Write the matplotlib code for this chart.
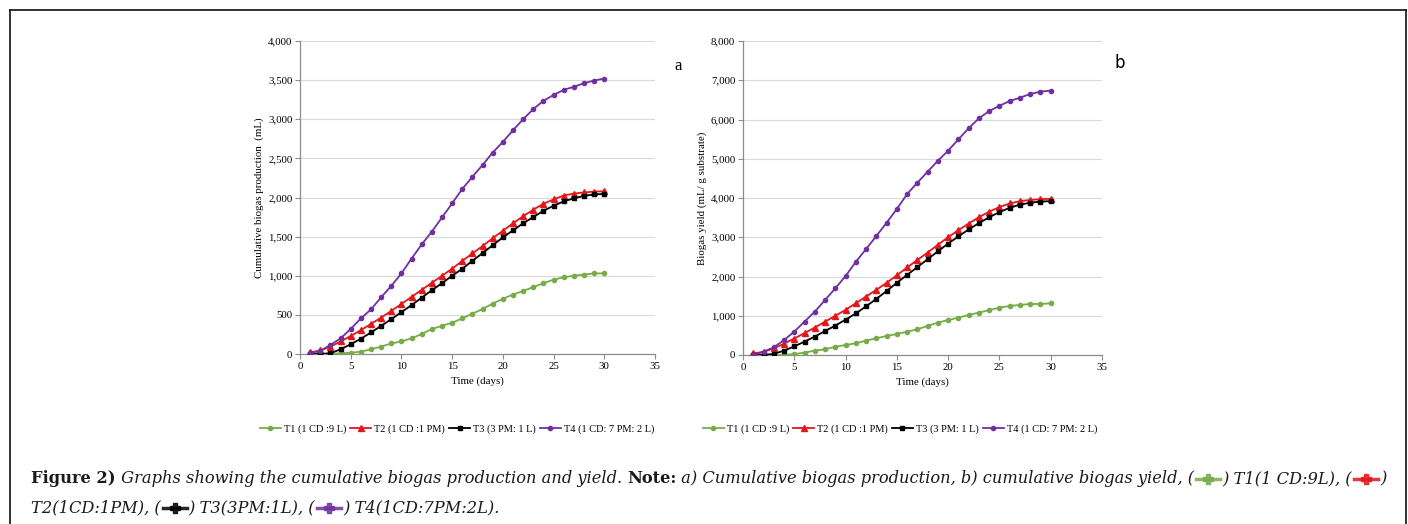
import matplotlib
matplotlib.use("Agg")
import matplotlib.pyplot as plt
from matplotlib.lines import Line2D

# === DATA ===
days = list(range(1, 31))

# a) cumulative biogas production (mL)
prod_t1 = [0, 0, 0, 10, 15, 30, 60, 95, 135, 160, 200, 255, 320, 360, 400,
           455, 515, 575, 645, 705, 760, 805, 855, 905, 950, 980, 1000, 1015, 1030, 1030]
prod_t2 = [20, 45, 95, 160, 230, 305, 385, 465, 550, 640, 730, 820, 910, 1000, 1090,
           1190, 1285, 1380, 1480, 1575, 1670, 1760, 1845, 1920, 1975, 2025, 2050, 2065, 2075, 2080]
prod_t3 = [0, 0, 10, 60, 125, 195, 275, 360, 445, 535, 625, 720, 815, 905, 1000,
           1090, 1190, 1290, 1390, 1490, 1580, 1670, 1750, 1830, 1895, 1950, 1990, 2020, 2040, 2045]
prod_t4 = [10, 40, 115, 200, 320, 455, 570, 725, 870, 1030, 1220, 1400, 1565, 1745, 1925,
           2110, 2265, 2415, 2575, 2710, 2860, 3000, 3130, 3235, 3310, 3375, 3415, 3460, 3495, 3520]

# b) biogas yield (mL/g substrate)
yield_t1 = [0, 0, 0, 0, 25, 60, 110, 145, 210, 255, 300, 365, 425, 485, 535,
            595, 655, 740, 825, 890, 950, 1020, 1080, 1145, 1205, 1250, 1275, 1300, 1300, 1315]
yield_t2 = [40, 80, 170, 290, 420, 560, 700, 850, 1000, 1150, 1320, 1490, 1660, 1840, 2030,
            2230, 2420, 2610, 2810, 3000, 3180, 3350, 3510, 3650, 3770, 3860, 3920, 3950, 3970, 3980]
yield_t3 = [0, 0, 30, 110, 220, 340, 470, 610, 750, 900, 1060, 1240, 1430, 1630, 1840,
            2040, 2240, 2440, 2640, 2840, 3020, 3200, 3360, 3510, 3640, 3750, 3830, 3880, 3910, 3920]
yield_t4 = [0, 85, 195, 380, 595, 850, 1105, 1400, 1700, 2010, 2375, 2700, 3030, 3370, 3720,
            4100, 4390, 4670, 4950, 5205, 5495, 5775, 6030, 6215, 6350, 6470, 6555, 6650, 6710, 6735]

labels_a = ["T1 (1 CD :9 L)", "T2 (1 CD :1 PM)", "T3 (3 PM: 1 L)", "T4 (1 CD: 7 PM: 2 L)"]
labels_b = ["T1 (1 CD :9 L)", "T2 (1 CD :1 PM)", "T3 (3 PM: 1 L)", "T4 (1 CD: 7 PM: 2 L)"]

# === STYLE ===
C_GREEN = "#77ac48"
C_RED = "#e3161b"
C_BLACK = "#000000"
C_PURPLE = "#7030a0"
colors = [C_GREEN, C_RED, C_BLACK, C_PURPLE]
markers = ["o", "^", "s", "o"]
msizes = [3.0, 4.0, 3.3, 3.0]

plt.rcParams["font.family"] = ["Liberation Serif", "DejaVu Serif"]

W, H = 1408, 524
fig = plt.figure(figsize=(W / 100, H / 100), dpi=100)


def fx(px):
    return px / W


def fy(py):
    return 1 - py / H


def setup_axes(ax, ymax, ystep, ylabel):
    ax.set_xlim(0, 35)
    ax.set_ylim(0, ymax)
    ax.set_xticks(range(0, 36, 5))
    ax.set_yticks(range(0, ymax + 1, ystep))
    ax.set_yticklabels([f"{v:,}" for v in range(0, ymax + 1, ystep)])
    ax.grid(axis="y", color="#d9d9d9", linewidth=0.8)
    ax.set_axisbelow(True)
    for s in ["top", "right"]:
        ax.spines[s].set_visible(False)
    for s in ["left", "bottom"]:
        ax.spines[s].set_color("#8c8c8c")
        ax.spines[s].set_linewidth(0.9)
    ax.tick_params(axis="both", labelsize=7.8, length=3.5, width=0.8,
                   color="#8c8c8c", pad=2)
    ax.set_xlabel("Time (days)", fontsize=7.8, labelpad=4)
    ax.set_ylabel(ylabel, fontsize=7.8, labelpad=3)


def draw_series(ax, series, labels):
    for vals, lab, c, m, ms in zip(series, labels, colors, markers, msizes):
        ax.plot(days, vals, color=c, marker=m, markersize=ms, linewidth=1.3,
                label=lab, zorder=3)


# --- Panel a ---
ax1 = fig.add_axes([fx(300), fy(354), fx(655) - fx(300), fy(41) - fy(354)])
draw_series(ax1, [prod_t1, prod_t2, prod_t3, prod_t4], labels_a)
setup_axes(ax1, 4000, 500, "Cumulative biogas production  (mL)")
fig.text(fx(678), fy(66), "a", fontsize=12, ha="center", va="center")
ax1.legend(loc="center", bbox_to_anchor=(fx(457), fy(429)),
           bbox_transform=fig.transFigure, ncol=4, frameon=False, fontsize=7.5,
           handlelength=2.0, handletextpad=0.3, columnspacing=0.4)

# --- Panel b ---
ax2 = fig.add_axes([fx(743), fy(355), fx(1102) - fx(743), fy(41) - fy(355)])
draw_series(ax2, [yield_t1, yield_t2, yield_t3, yield_t4], labels_b)
setup_axes(ax2, 8000, 1000, "Biogas yield (mL/ g substrate)")
fig.text(fx(1120), fy(63), "b", fontsize=12, ha="center", va="center",
         family="DejaVu Sans")
ax2.legend(loc="center", bbox_to_anchor=(fx(900), fy(429)),
           bbox_transform=fig.transFigure, ncol=4, frameon=False, fontsize=7.5,
           handlelength=2.0, handletextpad=0.3, columnspacing=0.4)

# --- Outer frame (open at the bottom) ---
frame_kw = dict(transform=fig.transFigure, color="#222222", linewidth=1.3)
fig.add_artist(Line2D([fx(10), fx(1406)], [fy(10), fy(10)], **frame_kw))
fig.add_artist(Line2D([fx(10), fx(10)], [fy(10), 0], **frame_kw))
fig.add_artist(Line2D([fx(1406), fx(1406)], [fy(10), 0], **frame_kw))

# --- Caption, placed piece by piece ---
fig.canvas.draw()
renderer = fig.canvas.get_renderer()
CAP_SIZE = 11.7
CAP_FONT = ["DejaVu Serif"]


def put(x, y, s, **kw):
    t = fig.text(fx(x), fy(y), s, fontsize=CAP_SIZE, va="baseline", ha="left",
                 color="#1a1a1a", family=CAP_FONT, **kw)
    bb = t.get_window_extent(renderer)
    return x + bb.width


def glyph(x, y, color):
    # small legend-style sample: thick line with a plus marker
    gw = 28
    fig.add_artist(Line2D([fx(x + 2), fx(x + gw / 2), fx(x + gw - 2)], [fy(y - 4.5)] * 3,
                          transform=fig.transFigure, color=color, linewidth=2.5,
                          alpha=0.85, marker="P", markevery=[1], markersize=7,
                          markerfacecolor=color, markeredgecolor=color))
    return x + gw


it = dict(style="italic")
y1, y2 = 483, 512
x = 31
x = put(x, y1, "Figure 2)", weight="bold")
x = put(x, y1, " Graphs showing the cumulative biogas production and yield. ", **it)
x = put(x, y1, "Note:", weight="bold")
x = put(x, y1, " a) Cumulative biogas production, b) cumulative biogas yield, (", **it)
x = glyph(x, y1, C_GREEN)
x = put(x, y1, ") T1(1 CD:9L), (", **it)
x = glyph(x, y1, C_RED)
x = put(x, y1, ")", **it)

x = 31
x = put(x, y2, "T2(1CD:1PM), (", **it)
x = glyph(x, y2, C_BLACK)
x = put(x, y2, ") T3(3PM:1L), (", **it)
x = glyph(x, y2, C_PURPLE)
x = put(x, y2, ") T4(1CD:7PM:2L).", **it)

fig.savefig("out.png", dpi=100)
